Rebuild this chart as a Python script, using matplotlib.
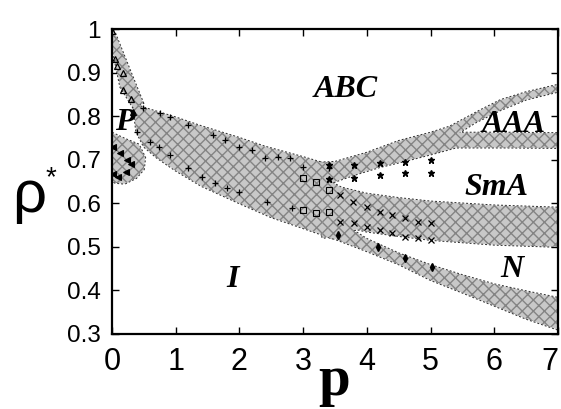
import numpy as np
import matplotlib
matplotlib.use("Agg")
import matplotlib.pyplot as plt

plt.rcParams["hatch.linewidth"] = 1.0

# ---- band edges (p, rho) ----
steep_left = [(0.0, 1.0), (0.02, 0.945), (0.13, 0.867), (0.33, 0.82)]
steep_right = [(0.49, 0.83), (0.28, 0.906), (0.05, 0.99)]

lobe = [(0.0, 0.762), (0.2, 0.748), (0.42, 0.735), (0.52, 0.705), (0.5, 0.678),
        (0.38, 0.658), (0.2, 0.645), (0.05, 0.647), (0.0, 0.652)]

main_upper = [(0.33, 0.828), (0.6, 0.815), (1.0, 0.797), (1.4, 0.777), (2.0, 0.75),
              (2.4, 0.73), (3.0, 0.706), (3.3, 0.693), (3.45, 0.69)]
main_lower = [(3.45, 0.52), (3.0, 0.543), (2.5, 0.568), (2.0, 0.6), (1.4, 0.64),
              (1.0, 0.675), (0.7, 0.705), (0.5, 0.73), (0.38, 0.765)]

rise_upper = [(3.2, 0.693), (3.5, 0.695), (4.0, 0.716), (4.5, 0.743), (5.0, 0.762),
              (5.3, 0.776), (5.8, 0.815), (6.1, 0.837), (6.5, 0.855), (7.0, 0.872)]
abc_aaa_lower = [(7.0, 0.856), (6.5, 0.838), (6.1, 0.814), (5.7, 0.785), (5.45, 0.762)]
aaa_sma_upper = [(5.45, 0.762), (6.2, 0.762), (7.0, 0.761)]
rise_lower = [(7.0, 0.727), (6.2, 0.728), (5.4, 0.728), (5.0, 0.712), (4.6, 0.697),
              (4.2, 0.683), (3.8, 0.665), (3.45, 0.647), (3.3, 0.64)]

mid_upper = [(3.3, 0.66), (3.45, 0.648), (3.6, 0.636), (4.0, 0.622), (4.5, 0.612),
             (5.0, 0.604), (6.0, 0.595), (7.0, 0.59)]
mid_lower = [(7.0, 0.5), (6.0, 0.505), (5.0, 0.516), (4.5, 0.525), (4.0, 0.535),
             (3.85, 0.54), (3.6, 0.53), (3.3, 0.52)]

low_upper = [(3.4, 0.565), (3.85, 0.532), (4.0, 0.518), (4.5, 0.485), (5.0, 0.458),
             (5.5, 0.435), (6.0, 0.414), (6.5, 0.398), (7.0, 0.383)]
low_lower = [(7.0, 0.31), (6.5, 0.335), (6.0, 0.365), (5.5, 0.395), (5.0, 0.424),
             (4.5, 0.46), (4.0, 0.49), (3.5, 0.518), (3.4, 0.522)]

# ---- simulation points ----
tri_p = [0.0, 0.05, 0.08, 0.18, 0.17, 0.3, 0.33]
tri_rho = [0.995, 0.93, 0.915, 0.9, 0.86, 0.84, 0.81]

lobe_p = [0.02, 0.12, 0.23, 0.3, 0.02, 0.1, 0.22]
lobe_rho = [0.73, 0.715, 0.7, 0.69, 0.668, 0.66, 0.672]

plus_up_p = [0.49, 0.75, 0.91, 1.2, 1.59, 1.77, 2.0, 2.2, 2.4, 2.6, 2.8, 3.0, 3.4]
plus_up_rho = [0.818, 0.807, 0.798, 0.78, 0.757, 0.745, 0.73, 0.722, 0.704, 0.707, 0.704, 0.683, 0.68]
plus_lo_p = [0.39, 0.6, 0.73, 0.91, 1.2, 1.41, 1.62, 1.8, 2.0, 2.43, 2.82]
plus_lo_rho = [0.764, 0.74, 0.73, 0.711, 0.68, 0.66, 0.647, 0.635, 0.625, 0.603, 0.59]

sq_p = [3.0, 3.2, 3.4, 3.0, 3.2, 3.4]
sq_rho = [0.658, 0.649, 0.631, 0.585, 0.578, 0.58]

x_up_p = [3.58, 3.79, 4.0, 4.2, 4.4, 4.6, 4.8, 5.0]
x_up_rho = [0.619, 0.603, 0.592, 0.58, 0.573, 0.566, 0.557, 0.555]
x_lo_p = [3.58, 3.8, 4.0, 4.2, 4.4, 4.6, 4.8, 5.0]
x_lo_rho = [0.557, 0.555, 0.546, 0.539, 0.532, 0.523, 0.52, 0.516]

dia_p = [3.55, 4.18, 4.6, 5.02]
dia_rho = [0.528, 0.5, 0.475, 0.454]

star_p = [3.4, 3.8, 4.2, 4.6, 5.0, 3.4, 3.8, 4.2, 4.6, 5.0]
star_rho = [0.688, 0.688, 0.693, 0.695, 0.7, 0.655, 0.658, 0.665, 0.67, 0.67]

phase_names = ["ABC", "AAA", "SmA", "N", "I", "P"]
phase_p = [3.67, 6.3, 6.03, 6.28, 1.9, 0.2]
phase_rho = [0.844, 0.764, 0.619, 0.431, 0.408, 0.768]

W, H = 561, 409
fig = plt.figure(figsize=(W / 100, H / 100), dpi=100)
ax = fig.add_axes([112 / W, (H - 334) / H, (558 - 112) / W, (334 - 29) / H])

bands = [steep_left + steep_right, lobe, main_upper + main_lower,
         rise_upper + abc_aaa_lower + aaa_sma_upper + rise_lower,
         mid_upper + mid_lower, low_upper + low_lower]

for b in bands:
    pts = np.array(b)
    # dotted outline under the fills, so only the outer half shows
    ax.fill(pts[:, 0], pts[:, 1], facecolor="none", edgecolor="#2e2e2e",
            linewidth=1.4, linestyle=(0, (1, 1)), zorder=1)
for b in bands:
    pts = np.array(b)
    ax.fill(pts[:, 0], pts[:, 1], facecolor="#c8c8c8", edgecolor="#848484",
            linewidth=0, hatch="xxx", zorder=2)

mk = dict(linestyle="none", color="black", zorder=4)
ax.plot(tri_p, tri_rho, marker="^", markersize=4, markerfacecolor="none", markeredgewidth=0.9, **mk)
ax.plot(lobe_p, lobe_rho, marker="<", markersize=4, markeredgewidth=0.8, **mk)
ax.plot(plus_up_p, plus_up_rho, marker="+", markersize=4, markeredgewidth=0.9, **mk)
ax.plot(plus_lo_p, plus_lo_rho, marker="+", markersize=4, markeredgewidth=0.9, **mk)
ax.plot(sq_p, sq_rho, marker="s", markersize=5, markerfacecolor="none", markeredgewidth=0.8, **mk)
ax.plot(x_up_p, x_up_rho, marker="x", markersize=4, markeredgewidth=0.9, **mk)
ax.plot(x_lo_p, x_lo_rho, marker="x", markersize=4, markeredgewidth=0.9, **mk)
ax.plot(dia_p, dia_rho, marker="d", markersize=4, **mk)
ax.plot(star_p, star_rho, marker="*", markersize=5, **mk)

for name, p, r in zip(phase_names, phase_p, phase_rho):
    ax.text(p, r, name, ha="center", va="baseline", fontsize=23,
            family="Liberation Serif", style="italic", weight="bold", zorder=5)

ax.set_xlim(0, 7)
ax.set_ylim(0.3, 1.0)
ax.set_xticks(range(8))
ax.set_xticklabels([str(i) for i in range(8)], family="Liberation Sans", fontsize=22)
ax.get_xticklabels()[-1].set_horizontalalignment("right")
ax.set_yticks([0.3, 0.4, 0.5, 0.6, 0.7, 0.8, 0.9, 1.0])
ax.set_yticklabels(["0.3", "0.4", "0.5", "0.6", "0.7", "0.8", "0.9", "1"],
                   family="Liberation Sans", fontsize=17.5)
ax.tick_params(direction="in", length=5, width=1, top=True, right=True, pad=8)
ax.tick_params(axis="x", pad=9)
for s in ax.spines.values():
    s.set_linewidth(1.6)
    s.set_zorder(6)

fig.text(29 / W, 1 - 212 / H, "ρ", family="Liberation Sans", fontsize=43,
         ha="center", va="baseline")
fig.text(51 / W, 1 - 178 / H, "*", family="Liberation Sans", fontsize=20,
         ha="center", va="center")
fig.text(334 / W, 1 - 395 / H, "p", family="Liberation Serif", weight="bold",
         fontsize=41, ha="center", va="baseline")

fig.savefig("out.png", dpi=100)
